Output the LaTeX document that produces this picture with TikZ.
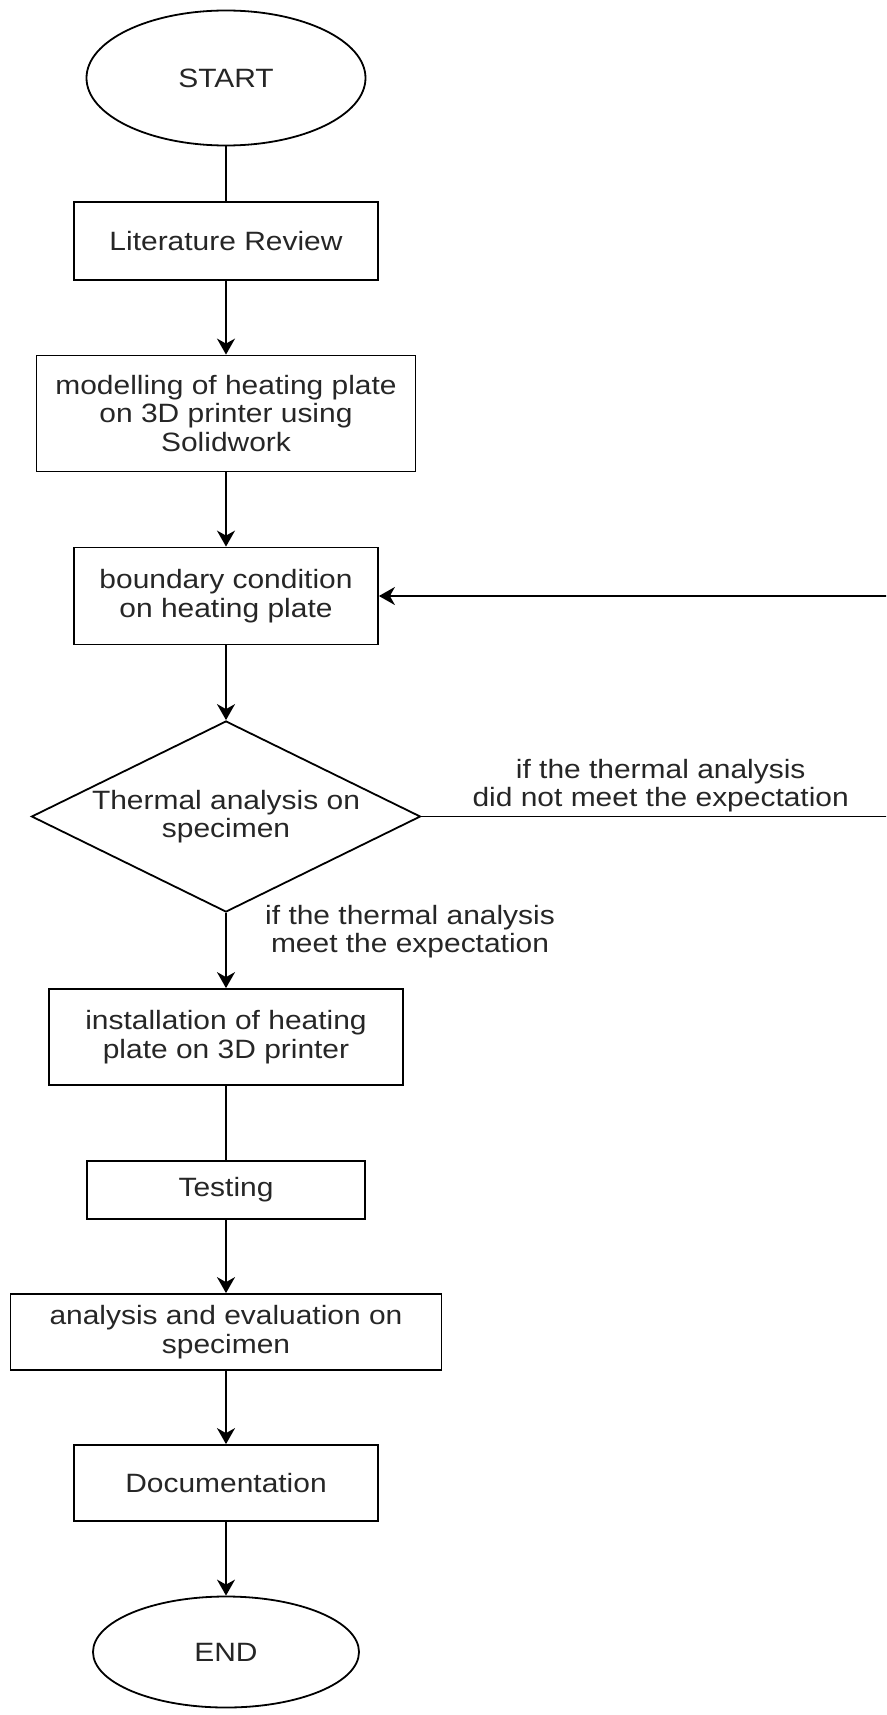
\documentclass[tikz,border=0pt]{standalone}
\usepackage{fontspec}
\setmainfont{Liberation Sans}[FakeStretch=1.13]
\usetikzlibrary{shapes.geometric,arrows.meta}

\begin{document}
\begin{tikzpicture}[x=1pt,y=-1pt,
  font=\fontsize{26.5}{28.3}\selectfont,
  every node/.style={text=black!85,align=center},
  >={Stealth[length=16pt,width=18pt,inset=5pt]},
  line width=1.8pt,
  terminal/.style={draw,ellipse,inner sep=0pt},
  process/.style={draw,rectangle,inner sep=0pt},
  decision/.style={draw,diamond,shape aspect=2.04,inner sep=0pt}]
\useasboundingbox (0,0) rectangle (886,1715);
\clip (0,0) rectangle (886,1715);

% Start and preparation steps
\node[terminal,minimum width=279pt,minimum height=135pt] (start) at (226,78) {START};
\node[process,minimum width=304pt,minimum height=78pt] (litrev) at (226,241) {Literature Review};
\node[process,minimum width=379pt,minimum height=116pt] (model) at (226,413.5)
  {modelling of heating plate\\on 3D printer using\\Solidwork};
\node[process,minimum width=304pt,minimum height=97pt] (bound) at (226,596)
  {boundary condition\\on heating plate};

% Decision on thermal analysis
\node[decision,minimum width=389pt,minimum height=191pt] (thermal) at (226,816.5)
  {Thermal analysis on\\specimen};

% Remaining steps
\node[process,minimum width=354pt,minimum height=96pt] (install) at (226,1037)
  {installation of heating\\plate on 3D printer};
\node[process,minimum width=278pt,minimum height=58pt] (test) at (226,1190) {Testing};
\node[process,minimum width=431pt,minimum height=76pt] (evalu) at (226,1332)
  {analysis and evaluation on\\specimen};
\node[process,minimum width=304pt,minimum height=76pt] (docu) at (226,1483) {Documentation};
\node[terminal,minimum width=266pt,minimum height=111pt] (finish) at (226,1652) {END};

% Main flow
\draw (start) -- (litrev);
\draw[->] (litrev) -- (model);
\draw[->] (model) -- (bound);
\draw[->] (bound) -- (thermal);
\draw[->] (thermal) -- node[right,pos=.25,xshift=35pt]
  {if the thermal analysis\\meet the expectation} (install);
\draw (install) -- (test);
\draw[->] (test) -- (evalu);
\draw[->] (evalu) -- (docu);
\draw[->] (docu) -- (finish);

% Loop back when expectation is not met
\coordinate (turn) at (900,816.5);
\draw[->] (thermal.east) -- node[above]
  {if the thermal analysis\\did not meet the expectation} (turn) |- (bound.east);
\end{tikzpicture}
\end{document}
